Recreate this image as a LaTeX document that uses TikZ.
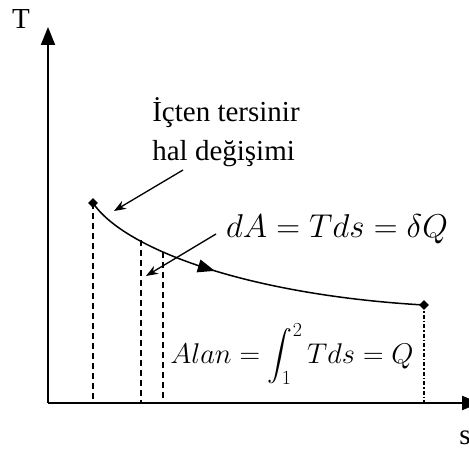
\RequirePackage{fix-cm}
\documentclass[tikz,border=0pt]{standalone}
\usepackage{exscale}
\usepackage{fontspec}
\setmainfont{Liberation Serif}
\usetikzlibrary{arrows.meta,shapes.geometric,decorations.markings}

\begin{document}
\begin{tikzpicture}[x=1pt, y=-1pt, >=Stealth,
    endpt/.style={diamond, fill, inner sep=0pt, minimum size=10pt},
    guide/.style={line width=1.3pt, dash pattern=on 6pt off 4pt},
    note/.style={->, line width=1.3pt, >={Stealth[length=12pt,width=9pt]}},
    lbl/.style={font=\fontsize{29}{39}\selectfont, inner sep=0pt},
    axis/.style={line width=2pt, -{Triangle[length=18pt,width=14pt]}}]
    \useasboundingbox (0,0) rectangle (469,452);

    % Axes
    \coordinate (O) at (48,403);
    \coordinate (ytip) at (48,27);
    \coordinate (xtip) at (480,403);
    \draw[axis] (O) -- (ytip);
    \draw[axis] (O) -- (xtip);
    \node[lbl] (Tlab) at (21,19) {T};
    \node[lbl] (slab) at (465,438) {s};

    % State points
    \node[endpt] (p1) at (93,203) {};
    \node[endpt] (p2) at (424,305) {};

    % Process curve
    \draw[line width=1.5pt, postaction={decorate},
        decoration={markings, mark=at position 0.4 with {\arrow{Triangle[length=17pt,width=13pt]}}}]
        (p1.center) .. controls (125,250) and (250,295) .. (p2.center);

    % Guides down to the s axis
    \coordinate (ds1) at (141,240);
    \coordinate (ds2) at (163,252);
    \draw[guide] (p1.center) -- (p1 |- O);
    \draw[guide] (ds1) -- (ds1 |- O);
    \draw[guide] (ds2) -- (ds2 |- O);
    \draw[line width=1.3pt, dash pattern=on 4pt off 2pt on 1.5pt off 2pt] (p2.center) -- (p2 |- O);

    % Labels
    \node[lbl, align=left] (proc) at (226,132) {İçten tersinir\\hal değişimi};
    \node[lbl, font=\fontsize{33}{39}\selectfont] (dAlab) at (337,229) {$dA = Tds = \delta Q$};
    \node[lbl, font=\fontsize{28.5}{34}\selectfont] (alan) at (292,354) {$\displaystyle Alan = \int_1^2 Tds = Q$};

    % Pointers
    \coordinate (procfoot) at (183,170);
    \coordinate (curvept) at (114,211);
    \coordinate (dAfoot) at (216,234);
    \coordinate (strip) at (146,276);
    \draw[note] (procfoot) -- (curvept);
    \draw[note] (dAfoot) -- (strip);
\end{tikzpicture}
\end{document}
